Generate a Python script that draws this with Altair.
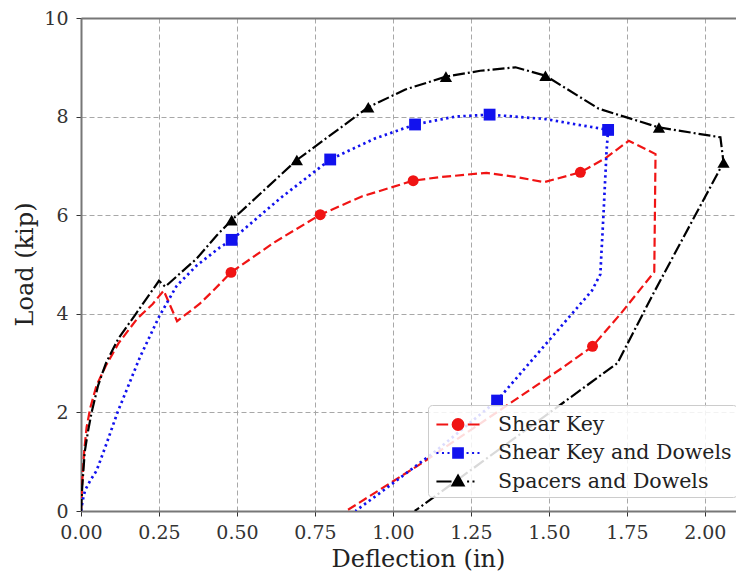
import altair as alt
import pandas as pd

series_names = ["Shear Key", "Shear Key and Dowels", "Spacers and Dowels"]
colors = ["#f01414", "#1212ee", "#000000"]
dashes = [[9, 4], [2.4, 3.4], [12, 3, 2, 3]]
widths = [2.2, 2.7, 2.2]
marker_shapes = ["circle", "square", "triangle-up"]
marker_sizes = [120, 140, 150]

# Shear Key (red, dashed, circles)
sk_x = [0.0, 0.004, 0.010, 0.018, 0.030, 0.05, 0.08, 0.12, 0.18, 0.23, 0.265, 0.308,
        0.38, 0.424, 0.481, 0.62, 0.767, 0.90, 1.065, 1.147, 1.30, 1.40, 1.484, 1.601,
        1.68, 1.756, 1.842, 1.838, 1.80, 1.73, 1.64, 1.54, 1.30, 1.09, 0.85]
sk_y = [0.0, 0.6, 1.2, 1.7, 2.1, 2.55, 2.95, 3.4, 3.9, 4.2, 4.47, 3.85,
        4.2, 4.47, 4.84, 5.45, 6.01, 6.38, 6.70, 6.77, 6.86, 6.77, 6.67, 6.87,
        7.15, 7.51, 7.24, 4.85, 4.55, 4.0, 3.34, 2.89, 1.86, 0.96, 0.0]
sk_mx = [0.481, 0.767, 1.065, 1.601, 1.64]
sk_my = [4.84, 6.01, 6.70, 6.87, 3.34]

# Shear Key and Dowels (blue, dotted, squares)
skd_x = [0.0, 0.005, 0.013, 0.03, 0.05, 0.082, 0.117, 0.146, 0.189, 0.251, 0.307,
         0.371, 0.446, 0.483, 0.64, 0.799, 0.94, 1.071, 1.20, 1.31, 1.489, 1.69,
         1.685, 1.675, 1.665, 1.638, 1.574, 1.334, 1.14, 0.97, 0.88]
skd_y = [0.0, 0.2, 0.42, 0.62, 0.82, 1.37, 2.0, 2.45, 3.12, 3.95, 4.57,
         4.98, 5.35, 5.5, 6.35, 7.13, 7.55, 7.84, 8.0, 8.04, 7.95, 7.73,
         7.3, 6.0, 4.8, 4.47, 4.0, 2.24, 1.23, 0.42, 0.0]
skd_mx = [0.483, 0.799, 1.071, 1.31, 1.69, 1.334]
skd_my = [5.5, 7.13, 7.84, 8.04, 7.73, 2.24]

# Spacers and Dowels (black, dash-dot, triangles)
sd_x = [0.0, 0.004, 0.012, 0.022, 0.034, 0.055, 0.08, 0.12, 0.176, 0.25, 0.27,
        0.371, 0.435, 0.483, 0.692, 0.921, 1.04, 1.17, 1.28, 1.393, 1.489, 1.66,
        1.853, 2.05, 2.06, 1.835, 1.72, 1.07]
sd_y = [0.0, 0.5, 1.2, 1.6, 2.0, 2.55, 3.0, 3.5, 4.0, 4.67, 4.55,
        5.12, 5.59, 5.9, 7.12, 8.19, 8.55, 8.81, 8.93, 9.0, 8.83, 8.16,
        7.78, 7.58, 7.07, 4.41, 3.0, 0.0]
sd_mx = [0.483, 0.692, 0.921, 1.17, 1.489, 1.853, 2.06]
sd_my = [5.9, 7.12, 8.19, 8.81, 8.83, 7.78, 7.07]

x_ticks = [0.0, 0.25, 0.5, 0.75, 1.0, 1.25, 1.5, 1.75, 2.0]
y_ticks = [0, 2, 4, 6, 8, 10]

line_rows, marker_rows = [], []
for name, xs, ys, mxs, mys in [
    (series_names[0], sk_x, sk_y, sk_mx, sk_my),
    (series_names[1], skd_x, skd_y, skd_mx, skd_my),
    (series_names[2], sd_x, sd_y, sd_mx, sd_my),
]:
    for i, (a, b) in enumerate(zip(xs, ys)):
        line_rows.append({"series": name, "idx": i, "x": a, "y": b})
    for a, b in zip(mxs, mys):
        marker_rows.append({"series": name, "x": a, "y": b})
lines_df = pd.DataFrame(line_rows)
markers_df = pd.DataFrame(marker_rows)

FONT = "DejaVu Serif"
xscale = alt.Scale(domain=[0, 2.1], nice=False, zero=False)
yscale = alt.Scale(domain=[0, 10], nice=False)

grid_common = dict(grid=True, gridDash=[5, 3], gridColor="#a8a8a8", gridWidth=1,
                   domainColor="#777777", domainWidth=2, tickColor="#333333",
                   tickSize=5, tickWidth=1, labelFont=FONT, labelFontSize=19,
                   labelColor="#333333", labelFlush=False, labelOverlap=False,
                   titleFont=FONT, titleFontSize=24, titleFontWeight="normal",
                   titleColor="#222222")

xaxis = alt.Axis(values=x_ticks, format=".2f", title="Deflection (in)",
                 labelPadding=7, titleX=337, titleY=48, titleBaseline="middle",
                 **grid_common)
yaxis = alt.Axis(values=y_ticks, format="d", title="Load (kip)", labelPadding=8,
                 titleX=-56, titleY=246, titleAngle=-90, titleBaseline="middle",
                 **grid_common)
topaxis = alt.Axis(orient="top", labels=False, ticks=False, grid=False, domain=True,
                   title=None, domainColor="#777777", domainWidth=2)

layers = []
for i, name in enumerate(series_names):
    layers.append(
        alt.Chart(lines_df).transform_filter(alt.datum.series == name).mark_line(
            clip=True, color=colors[i], strokeDash=dashes[i], strokeWidth=widths[i]
        ).encode(
            x=alt.X("x:Q", scale=xscale, axis=xaxis if i == 0 else None),
            y=alt.Y("y:Q", scale=yscale, axis=yaxis),
            order=alt.Order("idx:Q"),
        )
    )
for i, name in enumerate(series_names):
    layers.append(
        alt.Chart(markers_df).transform_filter(alt.datum.series == name).mark_point(
            filled=True, opacity=1, shape=marker_shapes[i], size=marker_sizes[i],
            color=colors[i]).encode(
            x=alt.X("x:Q", scale=xscale, axis=topaxis if i == 0 else None),
            y=alt.Y("y:Q", scale=yscale, axis=yaxis),
        )
    )

# legend symbols: line segment + marker drawn as one path
legend_paths = [
    "M-0.82,0H0.05M0.33,0H1.23M1.5,0H2.37"
    "M1.18,0A0.4,0.4,0,1,1,0.38,0A0.4,0.4,0,1,1,1.18,0Z",
    "M-0.82,0H-0.67M-0.41,0H-0.26M0.0,0H0.15M1.41,0H1.56M1.82,0H1.97M2.22,0H2.37"
    "M0.42,-0.36H1.14V0.36H0.42Z",
    "M-0.82,0H0.3M1.45,0H1.6M1.85,0H2.0"
    "M0.78,-0.45L1.2,0.3H0.36Z",
]
leg = alt.Legend(title=None, orient="none", legendX=347, legendY=387, padding=5,
                 fillColor="rgba(255,255,255,0.85)", strokeColor="#cccccc",
                 cornerRadius=4, labelFont=FONT, labelFontSize=20.5,
                 labelColor="#222222", labelOffset=36, symbolSize=729,
                 symbolStrokeWidth=2, rowPadding=3.5, symbolOpacity=1, labelLimit=400)

# invisible marks that only carry the legend
layers.append(
    alt.Chart(markers_df).mark_point(
        filled=True, size=729, strokeWidth=2, opacity=0).encode(
        x=alt.X("x:Q", scale=xscale, axis=None),
        y=alt.Y("y:Q", scale=yscale, axis=yaxis),
        fill=alt.Fill("series:N", scale=alt.Scale(domain=series_names, range=colors), legend=leg),
        stroke=alt.Stroke("series:N", scale=alt.Scale(domain=series_names, range=colors), legend=leg),
        shape=alt.Shape("series:N", scale=alt.Scale(domain=series_names, range=legend_paths),
                        legend=leg),
    )
)

chart = alt.layer(*layers).resolve_axis(
    x="independent"
).properties(
    width=655, height=493,
    padding={"left": 73, "top": 10, "right": 0, "bottom": 60},
    autosize=alt.AutoSizeParams(type="none"),
    background="white",
).configure_view(stroke=None)

chart.save("out.html", embed_options={"renderer": "svg", "actions": False})
